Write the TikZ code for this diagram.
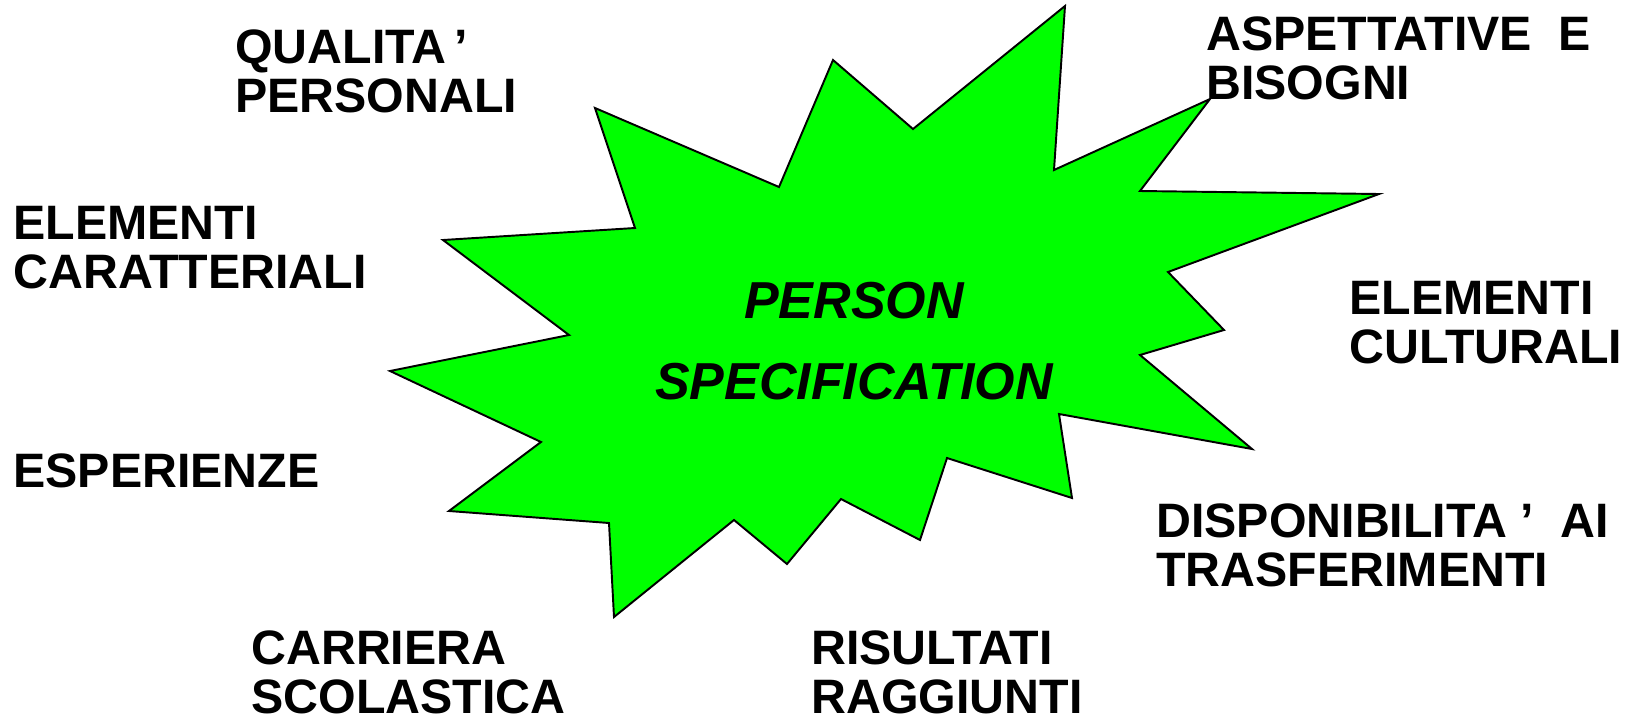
\documentclass[tikz,border=0pt]{standalone}
\usepackage{fontspec}
\setmainfont{Liberation Sans}
\usepackage{xcolor}
\usetikzlibrary{positioning}
\definecolor{burstgreen}{HTML}{00FF00}

\begin{document}
\begin{tikzpicture}[
  x=0.02cm, y=-0.02cm,
  burst/.style={draw=black, line width=1.1pt, fill=burstgreen, line join=miter},
  label/.style={anchor=base west, inner sep=0pt, align=left, font=\fontsize{27.5}{27.6}\selectfont\bfseries},
  title/.style={anchor=base, inner sep=0pt, align=center, font=\fontsize{29.6}{46}\selectfont\bfseries\itshape}
]
\useasboundingbox (0,0) rectangle (1629,714);

% central burst
\draw[burst] (595,108) -- (779,187) -- (833,60) -- (913,129) -- (1065,6) -- (1054,170)
  -- (1210,99) -- (1140,191) -- (1379,194) -- (1168,272) -- (1224,330) -- (1140,355)
  -- (1252,449) -- (1059,414) -- (1072,498) -- (947,458) -- (920,540) -- (841,499)
  -- (787,564) -- (734,520) -- (614,617) -- (609,523) -- (449,511) -- (541,442)
  -- (390,371) -- (569,335) -- (443,240) -- (635,228) -- cycle;

% base anchor sits on the last line
\node[title] (spec) at (854,399) {PERSON\\SPECIFICATION};

% labels round the burst
\node[label] (qual)  at (235,112)  {QUALITA\,’\\PERSONALI};
\node[label] (aspet) at (1206,99)  {ASPETTATIVE\ \ E\\BISOGNI};
\node[label] (elcar) at (13,288)   {ELEMENTI\\CARATTERIALI};
\node[label] (elcul) at (1349,363) {ELEMENTI\\CULTURALI};
\node[label] (esper) at (13,487)   {ESPERIENZE};
\node[label] (dispo) at (1156,586) {DISPONIBILITA\ ’\ \ AI\\TRASFERIMENTI};
\node[label] (carr)  at (251,713)  {CARRIERA\\SCOLASTICA};
\node[label] (risul) at (811,713)  {RISULTATI\\RAGGIUNTI};

\end{tikzpicture}
\end{document}
